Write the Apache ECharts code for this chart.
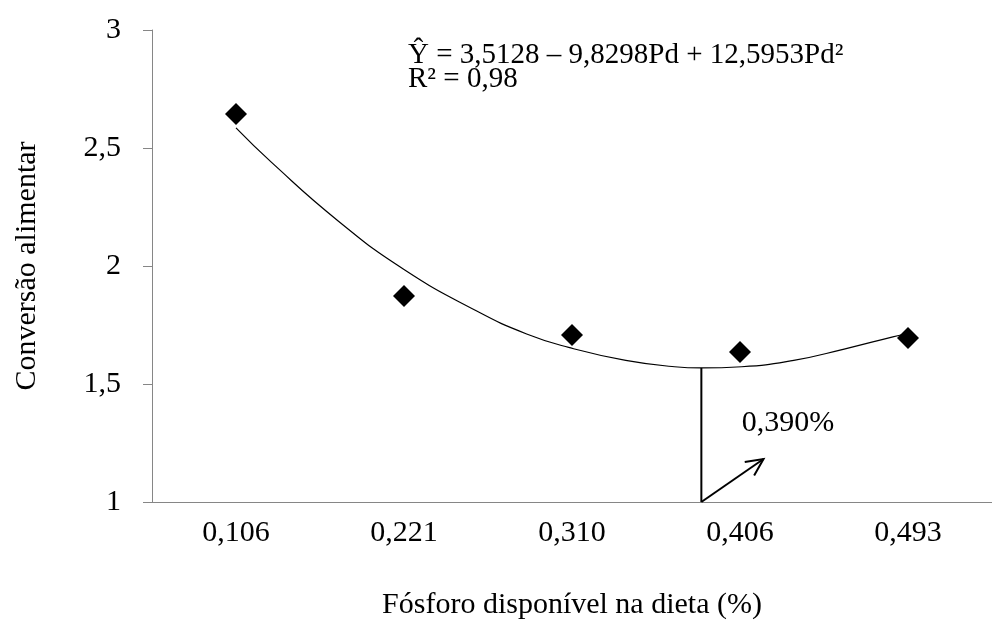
<!DOCTYPE html>
<html><head><meta charset="utf-8">
<script src="https://cdn.jsdelivr.net/npm/echarts@6/dist/echarts.min.js"></script>
<style>html,body{margin:0;padding:0;background:#fff}#c{width:992px;height:631px}</style>
</head><body><div id="c"></div><script>
const categories = ['0,106', '0,221', '0,310', '0,406', '0,493'];
const observed = [2.644, 1.873, 1.708, 1.636, 1.695];
// fitted curve (x = category index, 0-based)
const curveX = [0, 0.21, 0.61, 1.0, 1.43, 1.73, 1.98, 2.32, 2.61, 2.77, 3.01, 3.32, 3.62, 3.91, 3.98];
const curveY = [2.585, 2.44, 2.19, 1.985, 1.81, 1.712, 1.655, 1.60, 1.573, 1.568, 1.573, 1.600, 1.648, 1.700, 1.712];
const yMin = 1, yMax = 3, yStep = 0.5;
const optimumX = 2.77, optimumY = 1.568;
const arrowEnd = [3.14, 1.182];
const optimumLabel = '0,390%';
const optimumLabelAt = [3.01, 1.335];
const equationLines = ['Ŷ = 3,5128 – 9,8298Pd + 12,5953Pd²', 'R² = 0,98'];
const xTitle = 'Fósforo disponível na dieta (%)';
const yTitle = 'Conversão alimentar';

const FONT = "'Liberation Serif', 'Times New Roman', serif";
const AXIS = '#868686';
const chart = echarts.init(document.getElementById('c'), null, {renderer: 'canvas'});
const curveData = curveX.map((x, i) => [x, curveY[i]]);

chart.setOption({
  animation: false,
  backgroundColor: '#fff',
  grid: {left: 152, top: 30, width: 848, height: 472, containLabel: false},
  xAxis: [{
    type: 'category', data: categories, boundaryGap: true,
    axisLine: {onZero: false, lineStyle: {color: AXIS, width: 1}},
    axisTick: {length: 10, interval: 0, lineStyle: {color: AXIS}},
    axisLabel: {fontFamily: FONT, fontSize: 30, color: '#000', margin: 16},
    splitLine: {show: false},
    name: xTitle, nameLocation: 'middle', nameGap: 88,
    nameTextStyle: {fontFamily: FONT, fontSize: 30, color: '#000'}
  }, {
    type: 'value', min: -0.5, max: 4.5, show: false
  }],
  yAxis: {
    type: 'value', min: yMin, max: yMax, interval: yStep,
    axisLine: {show: true, onZero: false, lineStyle: {color: AXIS, width: 1}},
    axisTick: {show: true, length: 9, lineStyle: {color: AXIS}},
    axisLabel: {fontFamily: FONT, fontSize: 30, color: '#000', margin: 31,
      formatter: v => String(v).replace('.', ',')},
    splitLine: {show: false},
    name: yTitle, nameLocation: 'middle', nameGap: 110,
    nameTextStyle: {fontFamily: FONT, fontSize: 30, color: '#000'}
  },
  series: [{
    type: 'line', xAxisIndex: 1, data: curveData, smooth: 0.5,
    showSymbol: false, symbol: 'none',
    lineStyle: {color: '#000', width: 1.2}, z: 2
  }, {
    type: 'scatter', xAxisIndex: 0, data: observed,
    symbol: 'diamond', symbolSize: [22, 22],
    itemStyle: {color: '#000', opacity: 1}, z: 3
  }, {
    type: 'custom', xAxisIndex: 1, data: [[optimumX, optimumY]], z: 4,
    renderItem: function (params, api) {
      const base = api.coord([optimumX, yMin]);
      const top = api.coord([optimumX, optimumY]);
      const tip = api.coord(arrowEnd);
      const lab = api.coord(optimumLabelAt);
      const ang = Math.atan2(tip[1] - base[1], tip[0] - base[0]);
      const L = 19, spread = 0.45;
      const h1 = [tip[0] - L * Math.cos(ang - spread), tip[1] - L * Math.sin(ang - spread)];
      const h2 = [tip[0] - L * Math.cos(ang + spread), tip[1] - L * Math.sin(ang + spread)];
      const ls = {stroke: '#000', lineWidth: 2, fill: null};
      return {type: 'group', children: [
        {type: 'line', shape: {x1: base[0], y1: base[1], x2: top[0], y2: top[1]}, style: ls},
        {type: 'line', shape: {x1: base[0], y1: base[1], x2: tip[0], y2: tip[1]}, style: ls},
        {type: 'polyline', shape: {points: [h1, tip, h2]}, style: ls},
        {type: 'text', x: lab[0], y: lab[1], style: {text: optimumLabel, font: '30px ' + FONT, fill: '#000', align: 'left', verticalAlign: 'middle'}}
      ]};
    }
  }],
  graphic: [
    {type: 'text', left: 408, top: 41, style: {text: equationLines[0], font: '29px ' + FONT, fill: '#000'}},
    {type: 'text', left: 408, top: 65, style: {text: equationLines[1], font: '29px ' + FONT, fill: '#000'}}
  ]
});
</script></body></html>
